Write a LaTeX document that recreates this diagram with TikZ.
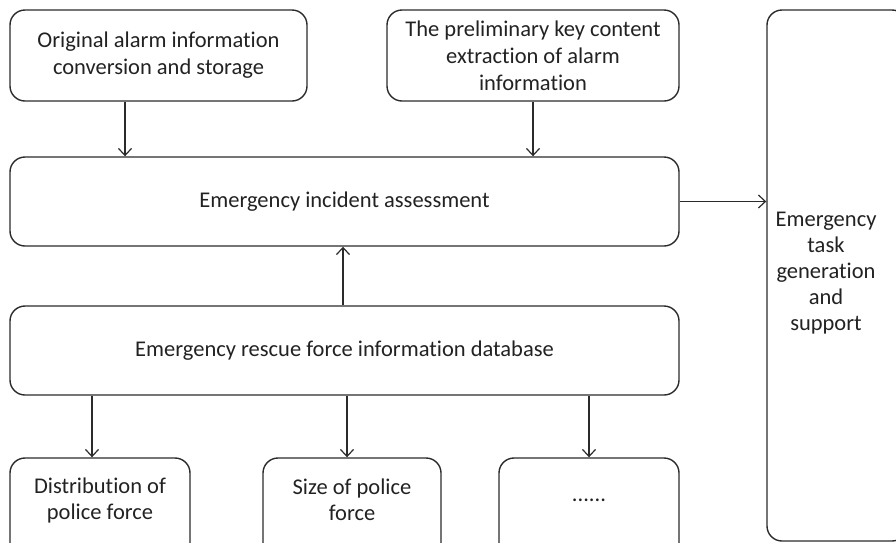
\documentclass[tikz,border=0pt]{standalone}
\usepackage{fontspec}
\setmainfont{Carlito}[Ligatures=NoCommon, RawFeature={-liga;-clig}]
\usetikzlibrary{arrows.meta}
\definecolor{ln}{HTML}{2B2B2B}
\definecolor{tx}{HTML}{222222}
\tikzset{
  box/.style={draw=ln, line width=1.4pt, rounded corners=15pt, align=center,
    text=tx, font=\fontsize{22.5}{27}\selectfont, inner sep=2pt},
  arr/.style={draw=ln, line width=1.2pt, -{Straight Barb[length=7pt,width=13pt,line width=1.2pt]}},
  lab/.style={align=center, text=tx, font=\fontsize{22.5}{26}\selectfont, inner sep=0pt}
}
\begin{document}
\begin{tikzpicture}[x=1pt,y=-1pt]
\useasboundingbox (0,0) rectangle (896,542);
\node[box, minimum width=297pt, minimum height=91pt] (A) at (158.5,55.5)
  {Original alarm information\\conversion and storage};
\node[box, minimum width=292pt, minimum height=91pt] (B) at (533,55.5)
  {The preliminary key content\\extraction of alarm\\information};
\node[box, minimum width=669pt, minimum height=89pt] (C) at (344.5,201.5)
  {Emergency incident assessment};
\node[box, minimum width=669pt, minimum height=89pt] (D) at (344.5,350.5)
  {Emergency rescue force information database};
\node[box, minimum width=180pt, minimum height=110pt,
  label={[lab, yshift=13pt]center:{Distribution of\\police force}}] (F1) at (100,513) {};
\node[box, minimum width=178pt, minimum height=110pt,
  label={[lab, yshift=13pt]center:{Size of police\\force}}] (F2) at (352,513) {};
\node[box, minimum width=180pt, minimum height=110pt,
  label={[lab, yshift=13pt]center:{......}}] (F3) at (589,513) {};
\node[box, minimum width=140pt, minimum height=531pt,
  label={[lab, xshift=-11pt, yshift=2.5pt]center:{Emergency\\task\\generation\\and\\support}}] (E) at (837,275.5) {};
\draw[arr] ([xshift=-33.5pt]A.south) -- ([xshift=-33.5pt]A.south |- C.north);
\draw[arr] (B.south) -- (B.south |- C.north);
\draw[arr] ([xshift=-1.5pt]D.north) -- ([xshift=-1.5pt]C.south);
\draw[arr] (C.east) -- (C.east -| E.west);
\draw[arr] ([xshift=-8pt]F1.north |- D.south) -- ([xshift=-8pt]F1.north);
\draw[arr] ([xshift=-5pt]F2.north |- D.south) -- ([xshift=-5pt]F2.north);
\draw[arr] (F3.north |- D.south) -- (F3.north);
\end{tikzpicture}
\end{document}
